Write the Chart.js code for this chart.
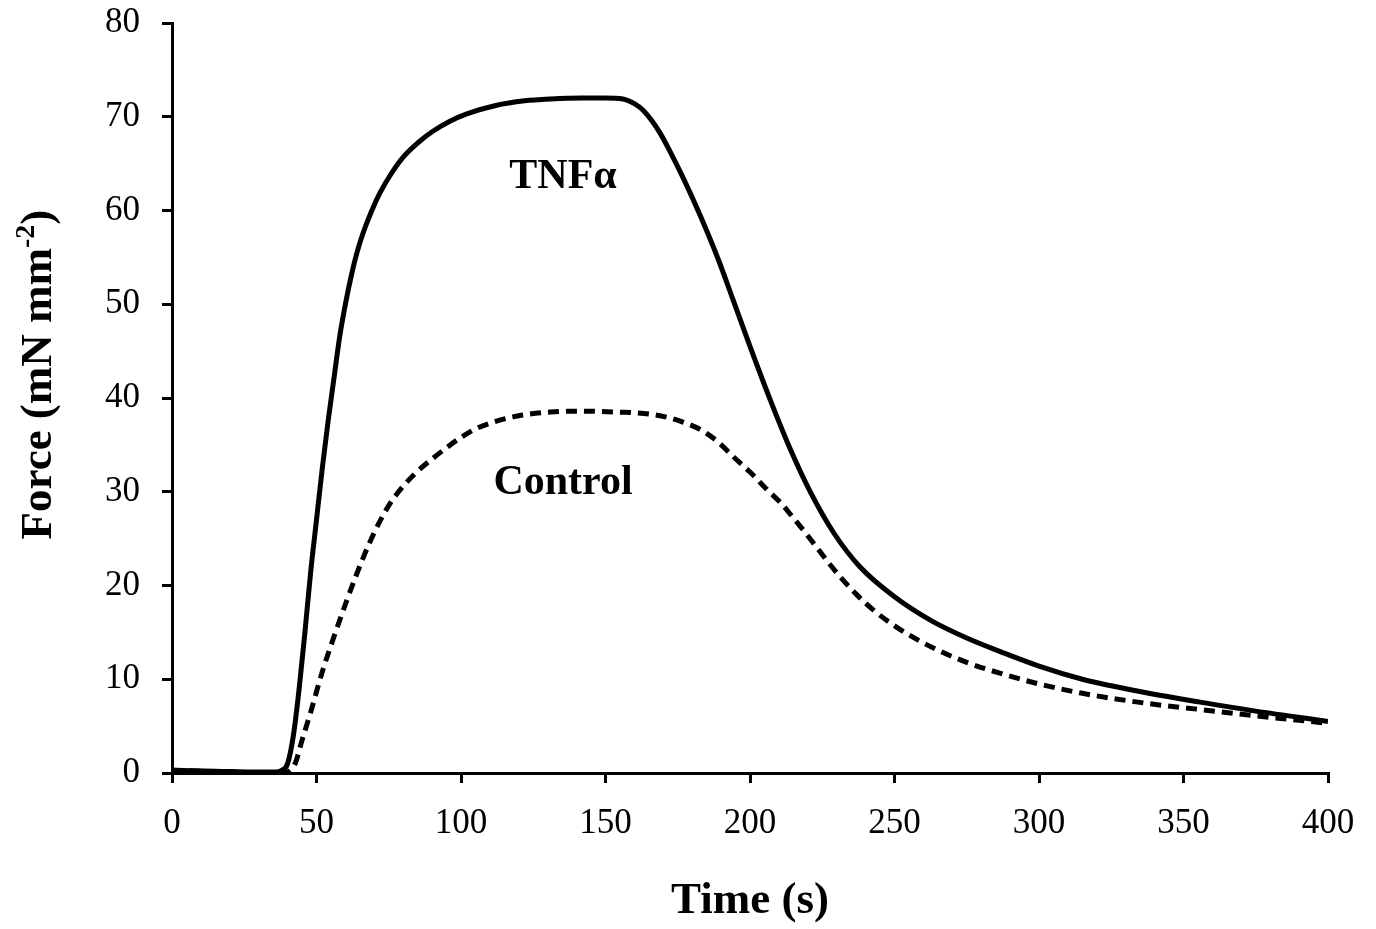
<!DOCTYPE html>
<html>
<head>
<meta charset="utf-8">
<script src="https://cdn.jsdelivr.net/npm/chart.js@4.4.0/dist/chart.umd.min.js"></script>
<style>
  body { margin: 0; background: #fff; overflow: hidden; }
  #wrap { width: 1376px; height: 949px; margin-top: -20px; }
</style>
</head>
<body>
<div id="wrap"><canvas id="chart-force"></canvas></div>
<script>
// TNFa trace (solid)
const tnfTime = [0, 15, 30, 36, 38, 40, 42, 44, 46, 48, 50, 52, 54, 56, 58, 60, 62, 64, 66, 69, 72, 76, 80, 85, 90, 96, 102, 112, 122, 131, 142, 150, 156, 160, 163, 166, 169, 172, 177, 183, 189, 194, 200, 207, 214, 221, 229, 238, 250, 263, 275, 287, 300, 315, 325, 338, 355, 375, 400];
const tnfForce = [0.3, 0.2, 0.1, 0.1, 0.3, 1.0, 4.0, 9.0, 15.0, 21.5, 27.0, 32.5, 37.5, 42.0, 46.5, 50.0, 53.0, 55.5, 57.5, 59.9, 61.9, 64.0, 65.7, 67.2, 68.4, 69.5, 70.3, 71.2, 71.7, 71.9, 72.0, 72.0, 71.9, 71.4, 70.7, 69.6, 68.2, 66.5, 63.4, 59.3, 54.8, 50.6, 45.5, 39.8, 34.5, 29.9, 25.6, 22.0, 18.8, 16.2, 14.4, 12.9, 11.4, 10.0, 9.3, 8.5, 7.6, 6.6, 5.5];

// Control trace (dashed)
const ctrlTime = [0, 20, 38, 40, 42.6, 45, 48, 52, 56, 60, 64, 68, 72, 76, 80, 85, 90, 95, 100, 105, 112, 120, 131, 142, 154, 165, 172, 177, 183, 189, 194, 200, 206, 211, 215, 219, 223, 227, 231, 237, 243, 252, 263, 275, 287, 300, 315, 338, 355, 375, 400];
const ctrlForce = [0.3, 0.1, 0.0, 0.1, 1.0, 3.5, 6.5, 10.8, 14.5, 18.0, 21.3, 24.3, 26.9, 29.0, 30.6, 32.2, 33.5, 34.7, 35.8, 36.7, 37.5, 38.1, 38.5, 38.6, 38.5, 38.3, 37.9, 37.4, 36.6, 35.3, 33.8, 32.1, 30.2, 28.7, 27.2, 25.7, 24.1, 22.5, 21.0, 19.0, 17.3, 15.3, 13.4, 11.8, 10.6, 9.5, 8.5, 7.4, 6.8, 6.1, 5.3];

// in-plot labels
const labelText = ['TNFα', 'Control'];
const labelTime = [135.3, 135.3];
const labelForce = [63.6, 30.9];

const serif = "'Liberation Serif', 'Times New Roman', serif";

const toPoints = (xs, ys) => xs.map((x, i) => ({ x: x, y: ys[i] }));

// draws the curve labels and the y title with its superscript
const textPlugin = {
  id: 'textPlugin',
  afterDraw(chart) {
    const ctx = chart.ctx;
    const xs = chart.scales.x;
    const ys = chart.scales.y;
    ctx.save();
    ctx.fillStyle = '#000';
    ctx.font = 'bold 42px ' + serif;
    ctx.textAlign = 'center';
    ctx.textBaseline = 'middle';
    labelText.forEach((t, i) => {
      ctx.fillText(t, xs.getPixelForValue(labelTime[i]), ys.getPixelForValue(labelForce[i]));
    });

    // y axis title
    const main = 'Force (mN mm';
    const sup = '-2';
    const close = ')';
    const big = 'bold 45px ' + serif;
    const small = 'bold 28px ' + serif;
    ctx.font = big;
    const w1 = ctx.measureText(main).width;
    const w3 = ctx.measureText(close).width;
    ctx.font = small;
    const w2 = ctx.measureText(sup).width;
    const total = w1 + w2 + w3;
    ctx.translate(36, ys.getPixelForValue(42.5));
    ctx.rotate(-Math.PI / 2);
    ctx.textAlign = 'left';
    ctx.textBaseline = 'alphabetic';
    let x0 = -total / 2;
    const base = 15;
    ctx.font = big;
    ctx.fillText(main, x0, base);
    ctx.font = small;
    ctx.fillText(sup, x0 + w1, base - 17);
    ctx.font = big;
    ctx.fillText(close, x0 + w1 + w2, base);
    ctx.restore();
  }
};

new Chart(document.getElementById('chart-force'), {
  type: 'scatter',
  data: {
    datasets: [
      {
        label: 'TNFα',
        data: toPoints(tnfTime, tnfForce),
        showLine: true,
        borderColor: '#000',
        borderWidth: 5,
        pointRadius: 0,
        cubicInterpolationMode: 'monotone',
      },
      {
        label: 'Control',
        data: toPoints(ctrlTime, ctrlForce),
        showLine: true,
        borderColor: '#000',
        borderWidth: 5,
        borderDash: [11, 7],
        pointRadius: 0,
        cubicInterpolationMode: 'monotone',
      },
    ],
  },
  options: {
    responsive: true,
    maintainAspectRatio: false,
    animation: false,
    layout: { padding: { top: 2, right: 48, left: 0, bottom: 0 } },
    plugins: {
      legend: { display: false },
      tooltip: { enabled: false },
    },
    scales: {
      x: {
        type: 'linear',
        min: 0,
        max: 400,
        afterFit: (scale) => { scale.height = 156; },
        ticks: {
          stepSize: 50,
          color: '#000',
          padding: 20,
          maxRotation: 0,
          font: { family: serif, size: 35 },
        },
        grid: { drawOnChartArea: false, color: '#000', lineWidth: 3, tickLength: 10 },
        border: { color: '#000', width: 3 },
        title: {
          display: true,
          text: 'Time (s)',
          color: '#000',
          padding: { top: 0, bottom: 1 },
          font: { family: serif, size: 45, weight: 'bold' },
        },
      },
      y: {
        min: 0,
        max: 80,
        afterFit: (scale) => { scale.width = 172; },
        ticks: {
          stepSize: 10,
          color: '#000',
          padding: 22,
          font: { family: serif, size: 35 },
        },
        grid: { drawOnChartArea: false, color: '#000', lineWidth: 3, tickLength: 10 },
        border: { color: '#000', width: 3 },
      },
    },
  },
  plugins: [textPlugin],
});
</script>
</body>
</html>
